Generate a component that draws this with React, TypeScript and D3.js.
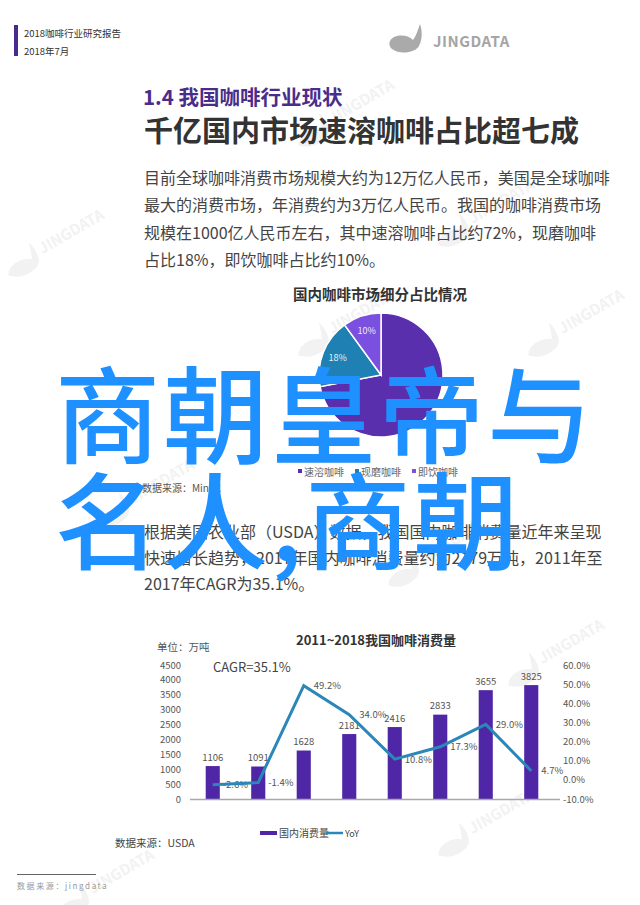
import React, { useRef, useEffect } from 'react';
import * as d3 from 'd3';

// 国内咖啡市场细分占比
const pieNames = ['速溶咖啡', '现磨咖啡', '即饮咖啡'];
const pieValues = [72, 18, 10];
const pieColors = ['#5a2fae', '#1f80b3', '#7b4fdf'];

// 2011~2018 咖啡消费量
const years = ['2011', '2012', '2013', '2014', '2015', '2016', '2017', '2018'];
const consumption = [1106, 1091, 1628, 2181, 2416, 2833, 3655, 3825];
const yoy = [-2.6, -1.4, 49.2, 34.0, 10.8, 17.3, 29.0, 4.7];
const leftTicks = [0, 500, 1000, 1500, 2000, 2500, 3000, 3500, 4000, 4500];
const rightTicks = [-10, 0, 10, 20, 30, 40, 50, 60];

const para1 = [
    '目前全球咖啡消费市场规模大约为12万亿人民币，美国是全球咖啡',
    '最大的消费市场，年消费约为3万亿人民币。我国的咖啡消费市场',
    '规模在1000亿人民币左右，其中速溶咖啡占比约72%，现磨咖啡',
    '占比18%，即饮咖啡占比约10%。',
];
const para2 = [
    '根据美国农业部（USDA）数据，我国国内咖啡消费量近年来呈现',
    '快速增长趋势，2017年国内咖啡消费量约为2179万吨，2011年至',
    '2017年CAGR为35.1%。',
];

const FONT = '"Noto Sans CJK SC", "Noto Sans", sans-serif';

const App: React.FC = () => {
    const svgRef = useRef<SVGSVGElement | null>(null);

    useEffect(() => {
        if (!svgRef.current) return;
        const svg = d3.select(svgRef.current);
        svg.selectAll('*').remove();
        svg.attr('font-family', FONT);

        svg.append('rect').attr('width', 640).attr('height', 905).attr('fill', '#fff');

        // faint watermarks
        const marks = [[40, 250], [330, 120], [470, 220], [330, 330], [560, 330], [130, 500], [420, 560], [540, 660], [470, 830], [90, 890]];
        const wm = svg.append('g').attr('fill', '#f2f2f2').attr('font-weight', 700).attr('font-size', 15);
        marks.forEach(([x, y]) => {
            const g = wm.append('g').attr('transform', `translate(${x},${y}) rotate(-30)`);
            g.append('path').attr('d', 'M-40,6 C-34,-4 -18,-2 -12,4 C-9,0 -8,-6 -6,-12 C-4,-6 -3,4 -7,10 C-12,16 -30,18 -40,6 Z');
            g.append('text').attr('x', 0).attr('y', 5).text('JINGDATA');
        });

        // header
        svg.append('rect').attr('x', 14).attr('y', 25).attr('width', 4).attr('height', 31).attr('fill', '#4b2a8f');
        svg.append('text').attr('x', 24).attr('y', 37).attr('font-size', 9.5).attr('fill', '#333').text('2018咖啡行业研究报告');
        svg.append('text').attr('x', 24).attr('y', 55).attr('font-size', 9.5).attr('fill', '#333').text('2018年7月');
        svg.append('path')
            .attr('d', 'M390,41 C394,34 407,34 413,40 C416,36 418,30 420,24 C422,30 423,38 419,46 C415,53 400,55 392,49 C389,46 389,43 390,41 Z')
            .attr('fill', '#aaa');
        svg.append('text').attr('x', 433).attr('y', 47).attr('font-size', 15).attr('font-weight', 700)
            .attr('fill', '#a5a5a5').attr('letter-spacing', 0.5).text('JINGDATA');

        // headings
        svg.append('text').attr('x', 143).attr('y', 105).attr('font-size', 20.5).attr('font-weight', 700)
            .attr('fill', '#4a2d8a').text('1.4 我国咖啡行业现状');
        svg.append('text').attr('x', 144).attr('y', 142).attr('font-size', 29).attr('font-weight', 700)
            .attr('fill', '#333').text('千亿国内市场速溶咖啡占比超七成');

        const body = (lines: string[], y0: number, dy: number) => {
            svg.append('g').attr('font-size', 16).attr('fill', '#444')
                .selectAll('text').data(lines).join('text')
                .attr('x', 144).attr('y', (_, i) => y0 + i * dy).text(d => d);
        };
        body(para1, 184, 27.3);
        body(para2, 538, 25.8);

        // pie
        svg.append('text').attr('x', 380).attr('y', 300).attr('text-anchor', 'middle').attr('font-size', 14.5)
            .attr('font-weight', 700).attr('fill', '#333').text('国内咖啡市场细分占比情况');
        const cx = 381, cy = 375, r = 62;
        const arcs = d3.pie<number>().sort(null)(pieValues);
        const arc = d3.arc<d3.PieArcDatum<number>>().innerRadius(0).outerRadius(r);
        const labelArc = d3.arc<d3.PieArcDatum<number>>().innerRadius(r * 0.75).outerRadius(r * 0.75);
        const pg = svg.append('g').attr('transform', `translate(${cx},${cy})`);
        pg.selectAll('path').data(arcs).join('path')
            .attr('d', arc).attr('fill', (_, i) => pieColors[i]).attr('stroke', '#fff').attr('stroke-width', 1.5);
        pg.selectAll('text').data(arcs).join('text')
            .attr('transform', d => `translate(${labelArc.centroid(d)})`)
            .attr('text-anchor', 'middle').attr('dy', '0.35em').attr('font-size', 9).attr('fill', '#eee')
            .text(d => `${d.data}%`);
        const lg = svg.append('g').attr('font-size', 10).attr('fill', '#666');
        pieNames.forEach((n, i) => {
            const x = 303 + i * 57;
            lg.append('rect').attr('x', x - 5).attr('y', 469).attr('width', 4).attr('height', 4).attr('fill', pieColors[i]);
            lg.append('text').attr('x', x + 1).attr('y', 476).text(n);
        });
        svg.append('text').attr('x', 142).attr('y', 492).attr('font-size', 10).attr('fill', '#555').text('数据来源：Mintel');

        // bar + line chart
        const x = d3.scaleBand<string>().domain(years).range([190, 554]).paddingInner(0.69).paddingOuter(0.345);
        const yL = d3.scaleLinear().domain([0, 4500]).range([799, 665]);
        const yR = d3.scaleLinear().domain([-10, 60]).range([799, 665]);
        const cxOf = (i: number) => (x(years[i]) as number) + x.bandwidth() / 2;

        svg.append('text').attr('x', 376).attr('y', 645).attr('text-anchor', 'middle').attr('font-size', 13)
            .attr('font-weight', 700).attr('fill', '#333').text('2011~2018我国咖啡消费量');
        svg.append('text').attr('x', 157).attr('y', 651).attr('font-size', 10.5).attr('fill', '#555').text('单位：万吨');
        svg.append('text').attr('x', 213).attr('y', 672).attr('font-size', 13).attr('fill', '#444').text('CAGR=35.1%');

        svg.append('g').attr('font-size', 9.5).attr('fill', '#555').attr('text-anchor', 'end')
            .selectAll('text').data(leftTicks).join('text')
            .attr('x', 181).attr('y', d => yL(d) + 3.5).text(d => d);
        svg.append('g').attr('font-size', 9.5).attr('fill', '#555')
            .selectAll('text').data(rightTicks).join('text')
            .attr('x', 563).attr('y', d => yR(d) + 3.5).text(d => `${d.toFixed(1)}%`);

        svg.append('g').selectAll('rect').data(consumption).join('rect')
            .attr('x', (_, i) => x(years[i]) as number).attr('width', x.bandwidth())
            .attr('y', d => yL(d)).attr('height', d => yL(0) - yL(d)).attr('fill', '#4f27a6');
        svg.append('line').attr('x1', 190).attr('x2', 560).attr('y1', 799.5).attr('y2', 799.5)
            .attr('stroke', '#a8a8a8').attr('stroke-width', 1.5);

        svg.append('g').attr('font-size', 9.5).attr('fill', '#555').attr('text-anchor', 'middle')
            .selectAll('text').data(consumption).join('text')
            .attr('x', (_, i) => cxOf(i)).attr('y', d => yL(d) - 5.5).text(d => d);
        svg.append('g').attr('font-size', 9.5).attr('fill', '#555')
            .selectAll('text').data(yoy).join('text')
            .attr('x', (_, i) => cxOf(i) + 10).attr('y', d => yR(d) + 3.5).text(d => `${d.toFixed(1)}%`);

        const line = d3.line<number>().x((_, i) => cxOf(i)).y(d => yR(d));
        svg.append('path').datum(yoy).attr('d', line).attr('fill', 'none')
            .attr('stroke', '#2a87b8').attr('stroke-width', 3).attr('stroke-linejoin', 'miter');

        // legend
        svg.append('rect').attr('x', 260).attr('y', 831).attr('width', 17).attr('height', 4).attr('fill', '#4f27a6');
        svg.append('text').attr('x', 279).attr('y', 837).attr('font-size', 10).attr('fill', '#444').text('国内消费量');
        svg.append('line').attr('x1', 326).attr('x2', 343).attr('y1', 833).attr('y2', 833)
            .attr('stroke', '#2a87b8').attr('stroke-width', 2.5);
        svg.append('text').attr('x', 345).attr('y', 837).attr('font-size', 9).attr('fill', '#444').text('YoY');
        svg.append('text').attr('x', 115).attr('y', 847).attr('font-size', 10.5).attr('fill', '#444').text('数据来源：USDA');

        // footer
        svg.append('line').attr('x1', 17).attr('x2', 96).attr('y1', 874.5).attr('y2', 874.5).attr('stroke', '#666');
        svg.append('text').attr('x', 17).attr('y', 889).attr('font-size', 8).attr('letter-spacing', 1.6)
            .attr('fill', '#999').text('数据来源：jingdata');

        // big overlay title
        const ov = svg.append('g').attr('font-size', 105).attr('font-weight', 500)
            .attr('letter-spacing', 3).attr('fill', '#1e90ff');
        ov.append('text').attr('x', 55).attr('y', 455).text('商朝皇帝与');
        ov.append('text').attr('x', 55).attr('y', 561).text('名人,商朝');
    }, []);

    return (
        <svg ref={svgRef} width={640} height={905}
            style={{ position: 'absolute', left: 0, top: 0, display: 'block' }} />
    );
};

export default App;
